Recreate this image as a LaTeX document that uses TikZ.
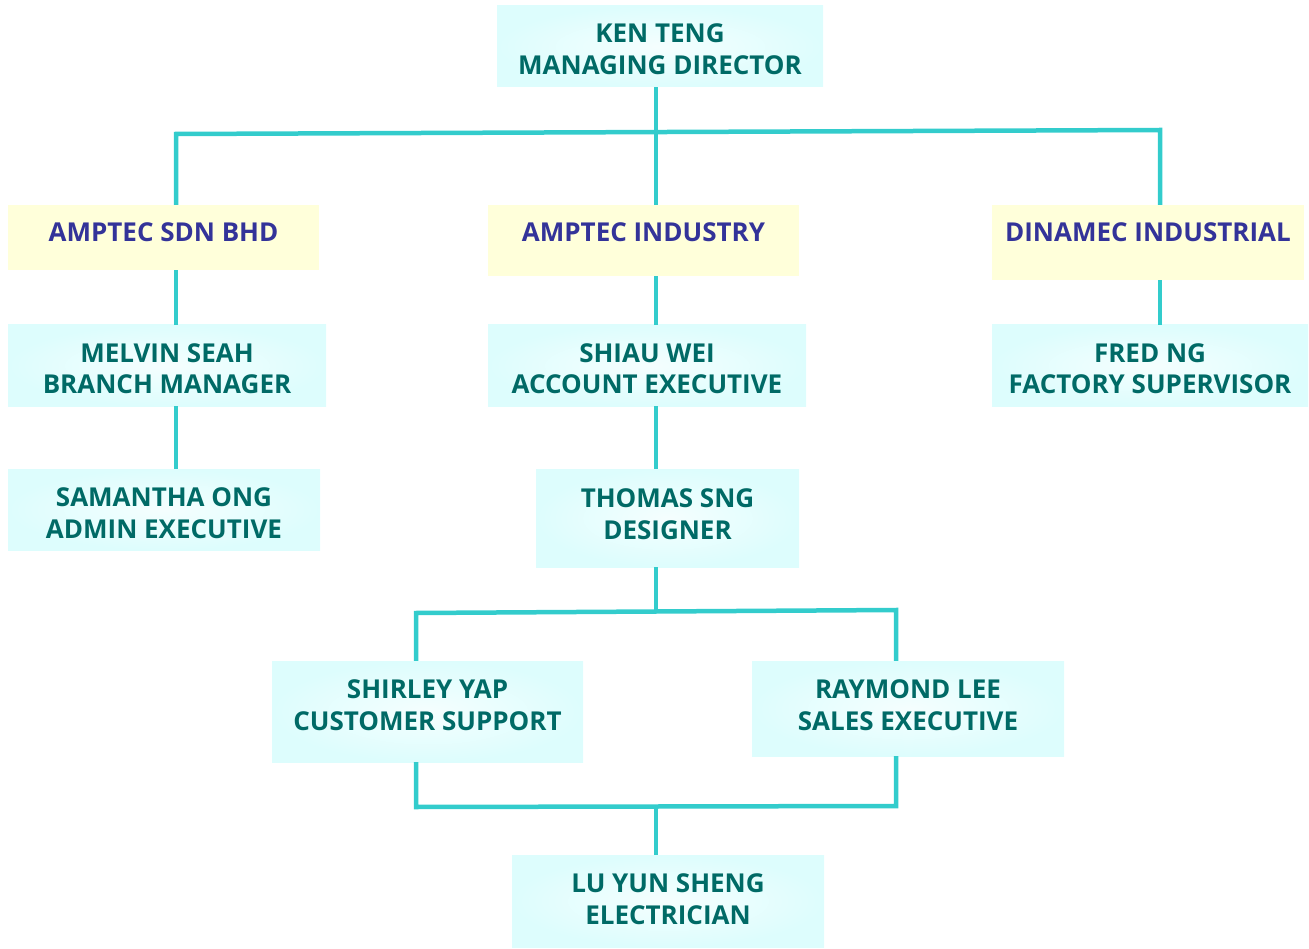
\documentclass[tikz,border=0pt]{standalone}
\usepackage{fontspec}
\setmainfont{Open Sans}
\begin{document}
\begin{tikzpicture}[x=1pt,y=-1pt]
\definecolor{boxc}{HTML}{DDFDFD}
\definecolor{compc}{HTML}{FFFFDA}
\definecolor{txtc}{HTML}{006A66}
\definecolor{comptxt}{HTML}{333399}
\definecolor{linec}{HTML}{33CCCC}
\tikzset{
  person/.style={rectangle, inner sep=0pt, align=center, inner color=white!70!boxc, outer color=boxc,
    text=txtc, font=\fontsize{26}{32}\selectfont\bfseries, text depth=0pt},
  company/.style={rectangle, inner sep=0pt, align=center, fill=compc,
    text=comptxt, font=\fontsize{26}{32}\selectfont\bfseries, text depth=0pt},
  conn/.style={draw=linec, line width=4.5pt}
}
\useasboundingbox (0,0) rectangle (1309,949);
% boxes
\node[person, minimum width=326pt, minimum height=81pt, text height=57pt] (ken) at (660,46.5) {KEN TENG\\MANAGING DIRECTOR};
\node[company, minimum width=311pt, minimum height=65pt, text height=9pt] (sdn) at (163.5,237.5) {AMPTEC SDN BHD};
\node[company, minimum width=311pt, minimum height=71pt, text height=3pt] (ind) at (643.5,240.5) {AMPTEC INDUSTRY};
\node[company, minimum width=312pt, minimum height=75pt, text height=0pt, text depth=1pt] (din) at (1148,242.5) {DINAMEC INDUSTRIAL};
\node[person, minimum width=318pt, minimum height=81pt, text height=57pt] (mel) at (167,365.5) {MELVIN SEAH\\BRANCH MANAGER};
\node[person, minimum width=318pt, minimum height=81pt, text height=57pt] (shi) at (647,365.5) {SHIAU WEI\\ACCOUNT EXECUTIVE};
\node[person, minimum width=316pt, minimum height=81pt, text height=57pt] (fred) at (1150,365.5) {FRED NG\\FACTORY SUPERVISOR};
\node[person, minimum width=312pt, minimum height=81pt, text height=57pt] (sam) at (164,509.5) {SAMANTHA ONG\\ADMIN EXECUTIVE};
\node[person, minimum width=263pt, minimum height=98pt, text height=42pt] (tho) at (667.5,518) {THOMAS SNG\\DESIGNER};
\node[person, minimum width=311pt, minimum height=101pt, text height=37pt] (shy) at (427.5,711.5) {SHIRLEY YAP\\CUSTOMER SUPPORT};
\node[person, minimum width=312pt, minimum height=95pt, text height=43pt] (ray) at (908,708.5) {RAYMOND LEE\\SALES EXECUTIVE};
\node[person, minimum width=312pt, minimum height=92pt, text height=46pt] (lu) at (668,901) {LU YUN SHENG\\ELECTRICIAN};
% bus coordinates
\coordinate (b1) at (656,133);
\coordinate (b1l) at (176,134);
\coordinate (b1r) at (1160,130);
\coordinate (b2) at (656,611);
\coordinate (b2l) at (416,613);
\coordinate (b2r) at (896,610);
\coordinate (b3) at (656,807);
\coordinate (b3l) at (416,807);
\coordinate (b3r) at (896,806);
% connectors
\draw[conn] (ken.south -| b1) -- (ind.north -| b1);
\draw[conn] (sdn.north -| b1l) -- (b1l) -- (b1r) -- (din.north -| b1r);
\draw[conn] (sdn.south -| b1l) -- (mel.north -| b1l);
\draw[conn] (mel.south -| b1l) -- (sam.north -| b1l);
\draw[conn] (ind.south -| b1) -- (shi.north -| b1);
\draw[conn] (shi.south -| b1) -- (tho.north -| b1);
\draw[conn] (din.south -| b1r) -- (fred.north -| b1r);
\draw[conn] (tho.south -| b2) -- (b2);
\draw[conn] (shy.north -| b2l) -- (b2l) -- (b2r) -- (ray.north -| b2r);
\draw[conn] (shy.south -| b3l) -- (b3l) -- (b3r) -- (ray.south -| b3r);
\draw[conn] (b3) -- (lu.north -| b3);
\end{tikzpicture}
\end{document}
